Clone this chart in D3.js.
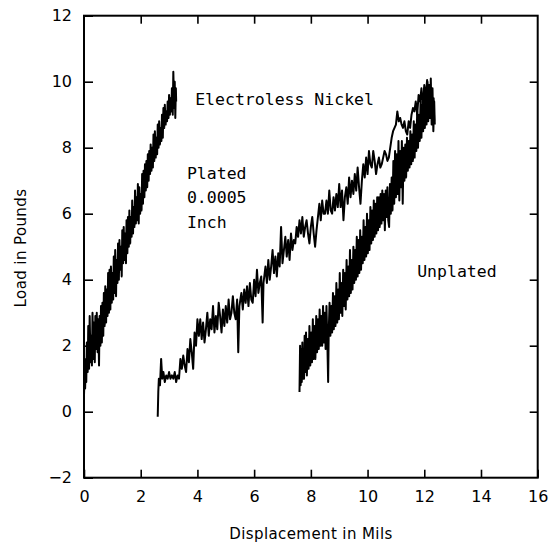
<!DOCTYPE html>
<html>
<head>
<meta charset="utf-8">
<script src="https://cdn.jsdelivr.net/npm/d3@7"></script>
<style>
html,body{margin:0;padding:0;background:#fff;}
svg{display:block;}
</style>
</head>
<body>
<svg id="chart" width="550" height="547"></svg>
<script>
// ---- data ----
const xTicks = [0, 2, 4, 6, 8, 10, 12, 14, 16];
const yTicks = [-2, 0, 2, 4, 6, 8, 10, 12];
const xLabel = "Displacement in Mils";
const yLabel = "Load in Pounds";

// Plated 0.0005 inch (left curve): [displacement, load]
const platedPoints = [[0.00,0.5],[0.02,1.1],[0.04,0.7],[0.06,1.6],[0.08,0.9],[0.10,2.1],[0.13,1.2],[0.15,2.6],[0.18,1.3],[0.20,2.9],[0.23,1.5],[0.25,2.3],[0.28,1.4],[0.30,3.0],[0.33,1.6],[0.35,2.7],[0.38,1.5],[0.40,2.9],[0.43,1.9],[0.45,3.0],[0.48,1.8],[0.50,2.8],[0.53,1.4],[0.55,2.9],[0.58,2.0],[0.60,3.2],[0.63,2.1],[0.65,3.3],[0.68,2.3],[0.70,3.6],[0.73,2.6],[0.75,3.8],[0.78,2.7],[0.80,3.7],[0.83,2.9],[0.85,4.2],[0.88,3.0],[0.90,4.3],[0.93,3.1],[0.95,4.4],[0.98,3.3],[1.00,4.2],[1.03,3.4],[1.05,4.7],[1.08,3.6],[1.10,4.9],[1.13,3.5],[1.15,4.6],[1.18,3.9],[1.20,5.1],[1.23,4.0],[1.25,5.2],[1.28,4.3],[1.30,5.0],[1.33,4.1],[1.35,5.5],[1.38,4.5],[1.40,5.6],[1.43,4.6],[1.45,5.4],[1.48,4.5],[1.50,5.8],[1.53,4.8],[1.55,5.9],[1.58,5.0],[1.60,6.1],[1.63,5.1],[1.65,5.9],[1.68,5.3],[1.70,6.4],[1.73,5.4],[1.75,6.2],[1.78,5.6],[1.80,6.7],[1.83,5.7],[1.85,6.5],[1.88,5.8],[1.90,6.9],[1.93,5.7],[1.95,6.8],[1.98,6.0],[2.00,6.6],[2.03,6.1],[2.05,7.2],[2.08,6.3],[2.10,7.3],[2.13,6.5],[2.15,7.5],[2.18,6.7],[2.20,7.6],[2.23,6.8],[2.25,7.8],[2.28,7.0],[2.30,7.9],[2.33,7.2],[2.35,8.1],[2.38,7.3],[2.40,8.0],[2.43,7.4],[2.45,8.4],[2.48,7.6],[2.50,8.5],[2.53,7.7],[2.55,8.3],[2.58,7.8],[2.60,8.7],[2.63,8.0],[2.65,8.8],[2.68,8.1],[2.70,8.6],[2.73,8.2],[2.75,9.0],[2.78,8.3],[2.80,9.2],[2.83,8.6],[2.85,9.3],[2.88,8.7],[2.90,9.1],[2.93,8.8],[2.95,9.4],[2.98,8.9],[3.00,9.6],[3.03,9.0],[3.05,9.5],[3.08,9.1],[3.10,9.8],[3.13,9.0],[3.15,10.3],[3.18,9.2],[3.20,10.0],[3.22,8.9],[3.24,9.8],[3.25,9.4]];

// Electroless nickel (middle curve)
const nickelPoints = [[2.60,-0.15],[2.62,0.6],[2.64,1.0],[2.68,0.8],[2.72,1.6],[2.76,1.0],[2.80,1.2],[2.85,0.9],[2.90,1.1],[2.95,1.0],[3.00,1.2],[3.05,1.0],[3.10,1.1],[3.15,1.0],[3.20,1.2],[3.25,0.9],[3.30,1.1],[3.35,1.0],[3.40,1.6],[3.45,1.3],[3.50,1.7],[3.55,1.4],[3.60,1.2],[3.65,1.9],[3.70,1.5],[3.75,2.2],[3.80,1.8],[3.85,1.3],[3.90,2.4],[3.95,2.0],[4.00,2.8],[4.05,2.3],[4.10,2.8],[4.15,2.2],[4.20,2.7],[4.25,2.1],[4.30,2.5],[4.35,3.0],[4.40,2.3],[4.45,2.8],[4.50,2.5],[4.55,3.2],[4.60,2.4],[4.65,2.9],[4.70,2.5],[4.75,3.3],[4.80,2.9],[4.85,2.4],[4.90,3.1],[4.95,2.6],[5.00,3.2],[5.05,2.7],[5.10,3.4],[5.15,2.8],[5.20,3.0],[5.25,3.5],[5.30,3.0],[5.35,2.8],[5.40,3.4],[5.44,1.8],[5.48,3.2],[5.55,3.6],[5.60,3.1],[5.65,3.7],[5.70,3.3],[5.75,3.8],[5.80,3.2],[5.85,3.9],[5.90,3.4],[5.95,3.3],[6.00,4.0],[6.05,3.5],[6.10,4.3],[6.15,3.6],[6.20,3.9],[6.25,4.1],[6.30,2.7],[6.33,3.9],[6.40,4.4],[6.45,3.9],[6.50,4.6],[6.55,4.0],[6.60,4.4],[6.65,4.9],[6.70,4.2],[6.75,4.7],[6.80,4.1],[6.85,4.8],[6.90,4.4],[6.95,5.6],[7.00,4.5],[7.05,4.9],[7.10,5.3],[7.15,4.7],[7.20,5.2],[7.25,4.6],[7.30,5.4],[7.35,4.9],[7.40,5.2],[7.45,5.1],[7.50,5.6],[7.55,5.3],[7.60,5.8],[7.65,5.4],[7.70,5.9],[7.75,5.3],[7.80,5.6],[7.85,5.8],[7.90,5.4],[7.95,5.1],[8.00,5.6],[8.05,5.9],[8.10,5.4],[8.15,5.0],[8.20,5.5],[8.25,5.9],[8.30,6.3],[8.35,5.8],[8.40,6.4],[8.45,6.0],[8.50,6.0],[8.55,6.4],[8.60,6.0],[8.65,6.7],[8.70,6.1],[8.75,6.0],[8.80,6.5],[8.85,6.1],[8.90,6.6],[8.95,6.2],[9.00,6.9],[9.05,6.2],[9.10,6.7],[9.15,5.8],[9.20,6.5],[9.25,6.8],[9.30,6.3],[9.35,7.1],[9.40,6.5],[9.45,7.0],[9.50,6.6],[9.55,7.2],[9.60,6.7],[9.65,7.4],[9.70,6.8],[9.75,6.3],[9.80,7.0],[9.85,7.5],[9.90,7.1],[9.95,7.7],[10.00,7.2],[10.05,7.9],[10.10,7.5],[10.15,7.4],[10.20,7.9],[10.25,7.6],[10.30,7.2],[10.35,7.5],[10.40,7.7],[10.45,7.4],[10.50,7.5],[10.55,7.7],[10.60,7.9],[10.65,7.8],[10.70,7.6],[10.75,7.7],[10.80,8.0],[10.85,8.3],[10.90,8.5],[10.95,8.6],[11.00,8.7],[11.05,9.1],[11.10,8.8],[11.15,8.9],[11.20,8.7],[11.25,8.6],[11.30,8.8],[11.35,8.5],[11.40,8.4],[11.45,8.8],[11.50,8.6],[11.55,9.0],[11.60,9.2],[11.65,9.1],[11.70,9.4],[11.75,9.0],[11.80,9.6],[11.85,9.4],[11.90,9.8],[11.95,9.2],[12.00,9.9],[12.05,9.5],[12.10,10.05],[12.15,9.3],[12.18,9.9],[12.22,9.0],[12.26,9.7],[12.30,8.9],[12.33,9.5],[12.35,8.8]];

// Unplated (right curve)
const unplatedPoints = [[7.60,0.6],[7.62,2.0],[7.64,0.8],[7.66,1.9],[7.68,0.9],[7.70,2.1],[7.72,1.0],[7.74,1.8],[7.76,1.0],[7.78,2.3],[7.80,1.2],[7.83,2.4],[7.86,1.1],[7.89,2.2],[7.92,1.3],[7.95,2.6],[7.98,1.4],[8.01,2.4],[8.04,1.5],[8.07,2.8],[8.10,1.6],[8.13,2.6],[8.16,1.6],[8.19,2.9],[8.22,1.8],[8.25,2.8],[8.28,1.9],[8.31,3.1],[8.34,2.0],[8.37,2.9],[8.40,2.0],[8.43,3.2],[8.46,2.1],[8.49,3.0],[8.52,1.9],[8.55,3.2],[8.58,2.2],[8.61,0.9],[8.63,2.4],[8.66,3.3],[8.69,2.3],[8.72,3.2],[8.75,2.4],[8.78,3.6],[8.81,2.5],[8.84,3.5],[8.87,2.6],[8.90,3.9],[8.93,2.7],[8.96,3.7],[8.99,2.8],[9.02,4.2],[9.05,3.0],[9.08,3.9],[9.11,2.9],[9.14,4.3],[9.17,3.2],[9.20,4.2],[9.23,3.1],[9.26,4.6],[9.29,3.4],[9.32,4.4],[9.35,3.5],[9.38,4.9],[9.41,3.6],[9.44,4.6],[9.47,3.7],[9.50,5.0],[9.53,3.9],[9.56,4.9],[9.59,4.0],[9.62,5.3],[9.65,4.1],[9.68,5.2],[9.71,4.2],[9.74,5.5],[9.77,4.3],[9.80,5.3],[9.83,4.5],[9.86,5.8],[9.89,4.6],[9.92,5.6],[9.95,4.7],[9.98,6.0],[10.01,4.8],[10.04,5.8],[10.07,4.9],[10.10,6.2],[10.13,5.1],[10.16,6.1],[10.19,5.2],[10.22,6.4],[10.25,5.3],[10.28,6.3],[10.31,5.4],[10.34,6.5],[10.37,5.5],[10.40,6.5],[10.43,5.6],[10.46,6.6],[10.49,5.7],[10.52,6.7],[10.55,5.8],[10.58,6.6],[10.61,5.5],[10.64,6.7],[10.67,5.9],[10.70,6.8],[10.73,5.8],[10.76,5.6],[10.79,6.9],[10.82,6.0],[10.85,7.1],[10.88,6.1],[10.91,7.6],[10.94,6.3],[10.97,7.9],[11.00,6.5],[11.03,7.8],[11.06,6.6],[11.09,8.2],[11.12,6.4],[11.15,7.9],[11.18,6.8],[11.21,8.2],[11.24,6.3],[11.27,8.0],[11.30,7.0],[11.33,8.1],[11.36,7.1],[11.39,8.3],[11.42,7.3],[11.45,8.2],[11.48,7.4],[11.51,8.5],[11.54,7.5],[11.57,8.4],[11.60,7.6],[11.63,8.8],[11.66,7.7],[11.69,8.7],[11.72,7.9],[11.75,9.1],[11.78,8.0],[11.81,9.0],[11.84,8.2],[11.87,9.4],[11.90,8.3],[11.93,9.3],[11.96,8.5],[11.99,9.8],[12.02,8.6],[12.05,9.6],[12.08,8.7],[12.11,10.0],[12.14,8.8],[12.17,9.9],[12.20,8.9],[12.23,10.1],[12.26,8.7],[12.29,9.8],[12.32,8.5],[12.35,9.4],[12.37,8.7]];

const noteTexts = ["Electroless Nickel", "Plated", "0.0005", "Inch", "Unplated"];
const noteX = [3.92, 3.63, 3.63, 3.63, 11.75];
const noteY = [9.29, 7.05, 6.32, 5.57, 4.08];

// ---- drawing ----
const svg = d3.select("#chart");
const x = d3.scaleLinear().domain([0, 16]).range([84, 537.7]);
const y = d3.scaleLinear().domain([-2, 12]).range([477.7, 15.7]);

const tickFont = "DejaVu Sans, sans-serif";

const gB = svg.append("g").attr("transform", `translate(0,${y(-2)})`)
  .call(d3.axisBottom(x).tickValues(xTicks).tickSize(-8).tickPadding(13).tickFormat(d3.format("d")));
const gL = svg.append("g").attr("transform", `translate(${x(0)},0)`)
  .call(d3.axisLeft(y).tickValues(yTicks).tickSize(-9).tickPadding(12).tickFormat(d3.format("d")));
const gT = svg.append("g").attr("transform", `translate(0,${y(12)})`)
  .call(d3.axisTop(x).tickValues(xTicks.slice(1, -1)).tickSize(-8).tickFormat(""));
const gR = svg.append("g").attr("transform", `translate(${x(16)},0)`)
  .call(d3.axisRight(y).tickValues(yTicks.slice(1, -1)).tickSize(-8).tickFormat(""));

[gB, gL, gT, gR].forEach(g => {
  g.select(".domain").remove();
  g.selectAll(".tick line").attr("stroke", "#000").attr("stroke-width", 1.6);
  g.selectAll(".tick text").attr("fill", "#000").style("font-family", tickFont).style("font-size", "16px");
});

svg.append("rect")
  .attr("x", x(0)).attr("y", y(12))
  .attr("width", x(16) - x(0)).attr("height", y(-2) - y(12))
  .attr("fill", "none").attr("stroke", "#000").attr("stroke-width", 2);

const line = d3.line().x(d => x(d[0])).y(d => y(d[1]));
svg.append("g").selectAll("path").data([platedPoints, nickelPoints, unplatedPoints]).join("path")
  .attr("d", line)
  .attr("fill", "none")
  .attr("stroke", "#000")
  .attr("stroke-width", 2)
  .attr("stroke-linejoin", "round");

svg.append("g").selectAll("text").data(noteTexts).join("text")
  .attr("x", (d, i) => x(noteX[i])).attr("y", (d, i) => y(noteY[i]))
  .text(d => d)
  .attr("fill", "#000")
  .style("font-family", "DejaVu Sans Mono, monospace")
  .style("font-size", "16.5px");

svg.append("text")
  .attr("x", 311).attr("y", 539)
  .attr("text-anchor", "middle")
  .style("font-family", tickFont).style("font-size", "15px")
  .style("letter-spacing", "0.4px")
  .text(xLabel);

svg.append("text")
  .attr("transform", "translate(26,248) rotate(-90)")
  .attr("text-anchor", "middle")
  .style("font-family", tickFont).style("font-size", "15px")
  .style("letter-spacing", "0.4px")
  .text(yLabel);
</script>
</body>
</html>
